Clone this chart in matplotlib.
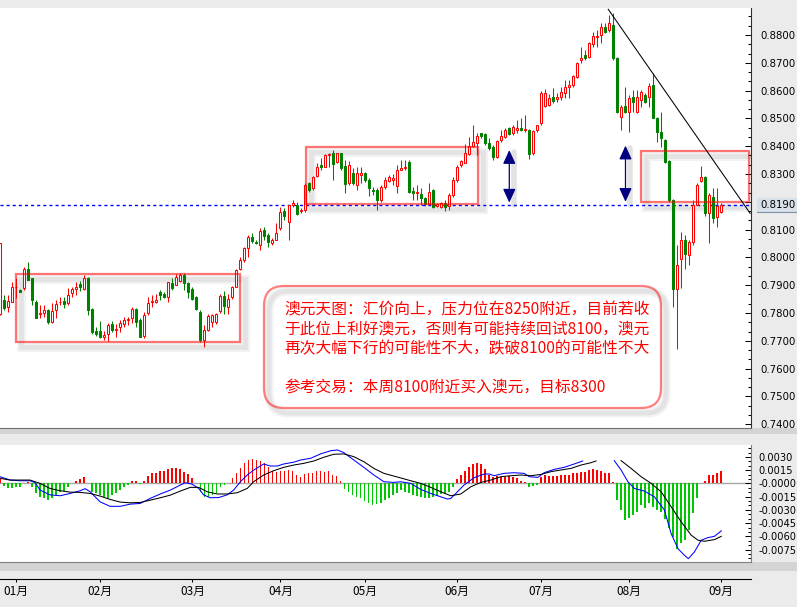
import numpy as np
import matplotlib
matplotlib.use('Agg')
import matplotlib.pyplot as plt
from matplotlib.patches import Rectangle, FancyBboxPatch, FancyArrowPatch
from matplotlib.ticker import FixedLocator, FormatStrFormatter, FuncFormatter
from matplotlib.transforms import IdentityTransform, blended_transform_factory

plt.rcParams['font.family'] = ['DejaVu Sans']
plt.rcParams['axes.unicode_minus'] = False
CJK = ['Noto Sans CJK SC', 'DejaVu Sans']

# 澳元/美元 日线，报价按万分位记 (8190 = 0.8190)
opens = [7795, 7847, 7823, 7841, 7892, 7883, 7889, 7959, 7925, 7841,
         7796, 7799, 7811, 7767, 7811, 7838, 7844, 7835, 7871, 7887,
         7904, 7887, 7925, 7814, 7736, 7736, 7715, 7725, 7760, 7739,
         7748, 7760, 7775, 7781, 7815, 7775, 7719, 7799, 7838, 7841,
         7875, 7869, 7856, 7907, 7901, 7916, 7935, 7907, 7888, 7858,
         7804, 7702, 7740, 7768, 7768, 7808, 7860, 7822, 7858, 7894,
         7960, 7992, 8032, 8074, 8056, 8043, 8100, 8080, 8050, 8064,
         8104, 8168, 8128, 8188, 8188, 8168, 8170, 8266, 8248, 8292,
         8332, 8326, 8368, 8374, 8344, 8374, 8328, 8266, 8302, 8260,
         8298, 8304, 8280, 8244, 8242, 8206, 8252, 8276, 8278, 8256,
         8316, 8320, 8344, 8240, 8232, 8228, 8212, 8192, 8242, 8184,
         8180, 8194, 8184, 8224, 8278, 8332, 8340, 8372, 8400, 8412,
         8446, 8444, 8412, 8398, 8362, 8422, 8434, 8464, 8446, 8460,
         8466, 8458, 8460, 8376, 8458, 8482, 8544, 8548, 8576, 8568,
         8578, 8590, 8612, 8620, 8650, 8710, 8728, 8722, 8768, 8792,
         8800, 8830, 8818, 8836, 8716, 8506, 8544, 8524, 8578, 8524,
         8566, 8584, 8578, 8620, 8500, 8452, 8422, 8348, 8206, 7888,
         7996, 8062, 8010, 8056, 8190, 8274, 8290, 8158, 8218, 8146,
         8162]
highs = [8052, 7865, 7863, 7913, 7927, 7885, 7967, 7985, 7925, 7847,
         7827, 7829, 7815, 7835, 7847, 7858, 7859, 7889, 7895, 7911,
         7916, 7937, 7931, 7817, 7748, 7772, 7736, 7763, 7772, 7760,
         7775, 7787, 7787, 7820, 7817, 7781, 7803, 7859, 7863, 7868,
         7883, 7875, 7913, 7925, 7939, 7943, 7943, 7913, 7895, 7860,
         7810, 7756, 7795, 7798, 7800, 7870, 7880, 7870, 7898, 7960,
         8002, 8038, 8080, 8086, 8062, 8104, 8108, 8086, 8068, 8122,
         8182, 8176, 8190, 8208, 8200, 8176, 8266, 8272, 8292, 8338,
         8356, 8372, 8374, 8388, 8376, 8376, 8350, 8348, 8320, 8324,
         8326, 8308, 8284, 8254, 8248, 8260, 8290, 8296, 8300, 8332,
         8350, 8350, 8350, 8254, 8260, 8248, 8216, 8266, 8246, 8196,
         8200, 8206, 8230, 8290, 8332, 8352, 8408, 8434, 8476, 8446,
         8448, 8446, 8428, 8404, 8422, 8460, 8464, 8470, 8476, 8494,
         8500, 8512, 8462, 8460, 8478, 8600, 8606, 8588, 8608, 8590,
         8614, 8638, 8638, 8656, 8702, 8758, 8746, 8774, 8812, 8818,
         8842, 8842, 8872, 8878, 8720, 8548, 8614, 8584, 8602, 8602,
         8602, 8590, 8628, 8662, 8506, 8524, 8426, 8350, 8210, 8044,
         8092, 8080, 8062, 8206, 8266, 8330, 8292, 8230, 8248, 8250,
         8194]
lows = [7793, 7811, 7805, 7838, 7853, 7875, 7883, 7917, 7829, 7781,
        7781, 7787, 7760, 7763, 7781, 7829, 7817, 7829, 7857, 7863,
        7880, 7881, 7793, 7724, 7719, 7709, 7703, 7700, 7733, 7715,
        7733, 7751, 7757, 7763, 7751, 7715, 7709, 7793, 7823, 7835,
        7847, 7853, 7841, 7883, 7899, 7913, 7883, 7853, 7845, 7810,
        7695, 7678, 7735, 7750, 7762, 7800, 7798, 7798, 7852, 7894,
        7954, 7984, 8002, 8050, 8047, 8026, 8062, 8038, 8044, 8062,
        8098, 8134, 8062, 8182, 8152, 8158, 8164, 8236, 8244, 8290,
        8316, 8324, 8326, 8280, 8340, 8314, 8232, 8260, 8260, 8242,
        8266, 8272, 8220, 8224, 8172, 8200, 8246, 8270, 8262, 8230,
        8314, 8314, 8230, 8206, 8206, 8188, 8186, 8188, 8178, 8180,
        8176, 8166, 8170, 8218, 8272, 8326, 8338, 8368, 8398, 8368,
        8428, 8404, 8386, 8352, 8356, 8416, 8428, 8440, 8440, 8446,
        8456, 8450, 8354, 8370, 8452, 8478, 8540, 8546, 8556, 8560,
        8566, 8572, 8572, 8614, 8644, 8698, 8710, 8716, 8758, 8758,
        8770, 8806, 8812, 8710, 8520, 8458, 8518, 8452, 8524, 8518,
        8542, 8555, 8542, 8500, 8416, 8398, 8340, 8200, 7822, 7672,
        7890, 7960, 7972, 8044, 8188, 8272, 8150, 8050, 8122, 8110,
        8158]
closes = [8050, 7817, 7843, 7893, 7895, 7877, 7958, 7919, 7847, 7781,
          7799, 7811, 7767, 7808, 7832, 7841, 7833, 7863, 7886, 7895,
          7893, 7925, 7811, 7730, 7724, 7713, 7721, 7757, 7739, 7743,
          7763, 7775, 7779, 7815, 7767, 7715, 7793, 7835, 7844, 7845,
          7865, 7859, 7911, 7889, 7931, 7937, 7907, 7877, 7852, 7816,
          7702, 7740, 7788, 7792, 7796, 7860, 7824, 7852, 7894, 7954,
          7992, 8032, 8074, 8060, 8051, 8096, 8076, 8056, 8062, 8086,
          8164, 8148, 8188, 8194, 8156, 8172, 8260, 8244, 8288, 8326,
          8324, 8368, 8372, 8336, 8374, 8320, 8264, 8332, 8266, 8302,
          8302, 8278, 8248, 8240, 8206, 8252, 8280, 8288, 8284, 8314,
          8320, 8326, 8236, 8232, 8236, 8212, 8192, 8236, 8182, 8192,
          8194, 8182, 8224, 8278, 8326, 8348, 8374, 8400, 8416, 8436,
          8436, 8412, 8392, 8362, 8420, 8436, 8460, 8444, 8470, 8464,
          8458, 8462, 8372, 8456, 8476, 8590, 8592, 8572, 8564, 8578,
          8596, 8612, 8620, 8652, 8698, 8716, 8716, 8770, 8796, 8796,
          8830, 8812, 8842, 8716, 8524, 8542, 8524, 8572, 8560, 8578,
          8596, 8560, 8616, 8500, 8452, 8428, 8344, 8206, 7888, 7972,
          8062, 8014, 8054, 8190, 8260, 8290, 8158, 8224, 8140, 8186,
          8190]

# 月份分隔
month_pos = [4, 25, 48, 70, 91, 114, 135, 157, 180]
month_labels = ['01月', '02月', '03月', '04月', '05月', '06月', '07月', '08月', '09月']

# MACD 柱 (单位 0.0001)
macd_hist = [5.7, -3, -5.7, -5.7, -4.5, -3.8, 0, 1.9, -4.5, -11.4,
             -15, -17, -19, -17, -13, -9.5, -8.3, -4.5, 0, 3,
             4.5, 7.6, 0, -9.5, -11.4, -13, -15, -17, -13, -11.4,
             -7.6, -4.5, -1.9, 3, 3, -1, 3, 8.3, 11.4, 12,
             14.4, 14.4, 16, 17, 17, 16, 13.3, 10.6, 5.7, 0,
             -9.5, -15, -15, -13, -11.4, -4.5, -2, 0, 5.7, 12,
             18, 22.7, 26.5, 27.3, 26.5, 25.8, 23.5, 19, 14.4, 13.3,
             14.4, 14.4, 15, 14.4, 9.5, 7.6, 10.6, 11.4, 12, 14.4,
             14.4, 13.3, 14.4, 9.5, 8.3, 3, -6.8, -9.5, -13, -15,
             -17, -19.7, -22, -24.6, -23.5, -22, -19, -17, -13, -11.4,
             -7.6, -9.5, -11.4, -13, -14, -15, -17, -16, -15, -14.4,
             -12, -10.6, -9.5, -3.8, 4.5, 9.5, 14.4, 19, 22, 22.7,
             22, 16, 9.5, 7.6, 8.3, 7.6, 7.6, 8.3, 7.6, 5.7,
             3, 1.9, -4.5, -3, -1.9, 7.6, 9.5, 8.3, 8.3, 8.3,
             9, 9.5, 9.5, 11.4, 12, 13.3, 13.3, 15, 16, 15,
             14.4, 11.4, 11.4, 1.9, -19, -30, -41, -38.7, -36, -32,
             -24.6, -28.4, -22.7, -26.5, -30, -32, -39.8, -51, -60.6, -74,
             -68, -63.7, -53, -34, -16, 0, 3, 9.5, 9.5, 11.4,
             14.4]

nan = float('nan')
# DIF (蓝线)
dif_idx = [0, 2.5, 5, 7.5, 8.75, 10, 12.5, 15, 17.5, 20, 21.25, 22.5, 25, 27.5, 30,
           32.5, 35, 37.5, 40, 42.5, 45, 46.25, 47.9, 49.6, 50.8, 52.5, 54.6, 56.7,
           58.3, 60, 61.7, 63.3, 65.8, 67.5, 69.2, 70.8, 73.3, 75, 77.5, 80, 82.5,
           84.2, 85.8, 88.3, 90.8, 93.3, 95.8, 98.3, 100, 102.5, 105, 107.5, 110,
           111.7, 112.5, 113.75, 115.8, 118.3, 120.8, 122.1, 123.3, 125.8, 128.3,
           130.8, 132.1, 134.2, 135.8, 138.3, 140.8, 143.3, 145.4, nan,
           153.3, 155, 156.7, 158.3, 160.8, 163.3, 165.8, 167.5, 169.2, 170.8,
           171.8, 173.3, 175, 176.7, 178.3, 180]
dif_val = [7.6, 3.8, 3, 3, 0.8, -7.6, -13, -14, -11.4, -8.3, -6, -9.5, -21, -26, -26,
           -23.5, -22.7, -17, -12, -7.6, -1.9, 0.8, -0.8, -5.7, -13, -16.3, -16, -13,
           -7.6, 1.9, 9.5, 15, 22, 19.7, 19.7, 22, 24, 26.5, 28.4, 33.4, 37,
           37.9, 34.9, 26.5, 18.2, 9.5, 1.9, 1.1, 1.9, 0, -6.8, -11.4, -15.2,
           -17.8, -17, -11.4, -1.9, 6.4, 10.6, 10.6, 8.7, 11.4, 12.1,
           11.4, 7.6, 6.8, 12.1, 15.9, 18.2, 22, 25.4, nan,
           25.8, 15.2, 1.9, -5.7, -8.7, -15.2, -30, -57, -74, -81.5,
           -85.3, -77.7, -64.4, -61.4, -60, -53.8]
# DEA (黑线)
dea_idx = [0, 2.5, 5, 7.5, 10, 12.5, 15, 17.5, 20, 22.5, 25, 27.5, 30, 32.5, 35,
           37.5, 40, 42.5, 45, 47.5, 49.6, 51.7, 54.2, 56.7, 59.2, 61.7, 63.3, 65.8,
           68.3, 70.8, 73.3, 75.8, 78.3, 80.8, 83.3, 85.8, 88.3, 90.8, 93.3, 95.8,
           98.3, 100, 102.5, 105, 107.5, 110, 112.5, 115, 117.5, 120, 122.5, 125,
           127.5, 130, 132.5, 135, 137.5, 140, 142.5, 145, 147.5, 148.75, nan,
           155, 157.5, 160, 162.5, 165, 167.5, 170, 172.5, 174.2, 175.8, 178.3, 180]
dea_val = [5.7, 3.8, 3.8, 3.8, 0, -5.7, -8.3, -9.9, -10.2, -11.4, -14.4, -18.2, -21.2, -22, -21.6,
           -19, -16.3, -13.3, -8.7, -4.5, -4.5, -9.5, -12, -12, -10.6, -5.7, 1.9, 9.5,
           14.4, 18.2, 20.8, 22.7, 25.4, 29.6, 33, 33.4, 30.3, 24.6, 17, 11.4,
           8.3, 6.2, 3, 0, -4.5, -9.5, -14, -12, -3.8, 1.1, 3.8, 7.6,
           8.7, 9.5, 8.7, 10.2, 13.3, 15.2, 17, 20.8, 23.5, 25.4, nan,
           25.8, 17, 7.6, 0, -9.5, -26.5, -43.6, -58.7, -64.4, -65.6, -63.7, -60]

RED = '#FF0000'
GREEN = '#008000'
HIST_GREEN = '#00C800'

W, H = 797, 607
STEP = 4.007  # 每根K线的像素间距


def px_rect(x0, y0, x1, y1):
    return [x0 / W, 1 - y1 / H, (x1 - x0) / W, (y1 - y0) / H]


fig = plt.figure(figsize=(W / 100, H / 100), dpi=100, facecolor='#EBEBEB')
ax = fig.add_axes(px_rect(0, 8, 751, 428))
axm = fig.add_axes(px_rect(0, 445, 751, 562))
axd = fig.add_axes(px_rect(0, 560, 751, 579))

xmax = 751 / STEP
for a in (ax, axm, axd):
    a.set_xlim(0, xmax)

# 面板之间的灰条
for y0, y1 in [(428, 434), (562, 571)]:
    fig.add_artist(Rectangle((0, H - y1), W, y1 - y0, transform=IdentityTransform(),
                             facecolor='#D4D4D4', edgecolor='none', zorder=-1))

# ---- K线 ----
o = np.array(opens) / 10000
h = np.array(highs) / 10000
l = np.array(lows) / 10000
c = np.array(closes) / 10000
x = np.arange(len(o))
up = c >= o
body_lo = np.minimum(o, c)
body_h = np.maximum(np.abs(c - o), 0.00004)

ax.vlines(x[up], l[up], h[up], color=RED, lw=0.75, zorder=3)
ax.vlines(x[~up], l[~up], h[~up], color=GREEN, lw=0.75, zorder=3)
ax.bar(x[up], body_h[up], bottom=body_lo[up], width=0.5, facecolor='white',
       edgecolor=RED, linewidth=0.75, zorder=4)
ax.bar(x[~up], body_h[~up], bottom=body_lo[~up], width=0.5, facecolor=GREEN,
       edgecolor=GREEN, linewidth=0.75, zorder=4)

ax.set_ylim(0.73863, 0.88971)
ax.set_facecolor('white')

# 现价水平虚线
last = closes[-1] / 10000
ax.axhline(last, color='#0000FF', lw=1.0, dashes=(2.2, 2.2), zorder=2)

# 区间框 (带阴影)
dx_sh, dy_sh = 5 / STEP, 5 / 2780


def range_box(x0, x1, y0, y1):
    for lw, col in [(6.5, '#F2F2F2'), (3.5, '#E3E3E3')]:
        ax.add_patch(Rectangle((x0 + dx_sh, y0 - dy_sh), x1 - x0, y1 - y0, fill=False,
                               edgecolor=col, lw=lw, zorder=1))
    ax.add_patch(Rectangle((x0, y0), x1 - x0, y1 - y0, fill=False, edgecolor='red',
                           alpha=0.55, lw=1.6, zorder=5))


range_box(3.9, 59.9, 0.7697, 0.7939)
range_box(76.3, 119.4, 0.8191, 0.8398)
range_box(159.9, 187.0, 0.8198, 0.8383)

# 双向箭头
for ax_x, y_lo, y_hi in [(127.1, 0.8197, 0.8386), (156.1, 0.8200, 0.8402)]:
    ax.plot([ax_x + dx_sh] * 2, [y_lo - 0.001, y_hi - 0.0008], color='#E2E2E2', lw=4,
            solid_capstyle='round', zorder=1)
    ax.add_patch(FancyArrowPatch((ax_x, y_lo), (ax_x, y_hi),
                                 arrowstyle='<|-|>,head_length=0.7,head_width=0.32',
                                 mutation_scale=12, color='#000080', lw=0.9,
                                 shrinkA=0, shrinkB=0, zorder=6))

# 下降趋势线
ax.plot([151.8, 187.2], [0.88924, 0.81586], color='black', lw=0.75, zorder=5)


def price_label(v, pos):
    # 现价标签所在位置不再标注刻度值
    return '' if abs(v - last) < 0.002 else '%.4f' % v


# 右侧价格轴
ax.yaxis.tick_right()
ax.yaxis.set_major_locator(FixedLocator(np.arange(0.74, 0.8801, 0.01)))
ax.yaxis.set_minor_locator(FixedLocator(np.arange(0.74, 0.8897, 0.01 / 3)))
ax.yaxis.set_major_formatter(FuncFormatter(price_label))
ax.tick_params(axis='y', which='major', direction='in', length=4, width=0.75,
               pad=6.5, labelsize=7.3)
ax.tick_params(axis='y', which='minor', direction='in', length=2.2, width=0.75)
ax.set_xticks([])
for s in ('left', 'top'):
    ax.spines[s].set_visible(False)
ax.spines['right'].set_color('#303030')
ax.spines['bottom'].set_color('#707070')

# 现价标签
bt = blended_transform_factory(ax.transAxes, ax.transData)
ax.add_patch(Rectangle((757 / 751, last - 0.0025), 60 / 751, 0.0049, transform=bt,
                       facecolor='#D8E0EA', edgecolor='none', clip_on=False, zorder=8))
ax.plot([757 / 751, 1.07], [last - 0.0025] * 2, transform=bt, color='#8090A8',
        lw=0.8, clip_on=False, zorder=9)
ax.text(760 / 751, last, '%.4f' % last, transform=bt, va='center', ha='left',
        fontsize=7.3, clip_on=False, zorder=10)

# ---- MACD ----
hist = np.array(macd_hist) / 10000
axm.axhline(0, color='#A8A8A8', lw=1.0, zorder=1)
axm.bar(x, hist, width=0.42, color=np.where(hist >= 0, RED, HIST_GREEN), zorder=2)
axm.plot(dif_idx, np.array(dif_val) / 10000, color='#0000FF', lw=0.75, zorder=3)
axm.plot(dea_idx, np.array(dea_val) / 10000, color='black', lw=0.75, zorder=3)
axm.set_ylim(-0.008909, 0.004352)
axm.yaxis.tick_right()
axm.yaxis.set_major_locator(FixedLocator(np.arange(-0.0075, 0.00301, 0.0015)))
axm.yaxis.set_minor_locator(FixedLocator(np.arange(-0.0085, 0.0043, 0.0005)))
axm.yaxis.set_major_formatter(FormatStrFormatter('%.4f'))
axm.tick_params(axis='y', which='major', direction='in', length=4, width=0.75,
                pad=5.5, labelsize=7.1)
axm.tick_params(axis='y', which='minor', direction='in', length=2.5, width=0.75)
axm.set_xticks([])
for s in ('left', 'top'):
    axm.spines[s].set_visible(False)
for s in ('right', 'bottom'):
    axm.spines[s].set_color('#808080')

# ---- 月份轴 ----
axd.patch.set_visible(False)
for s in ('left', 'top', 'right'):
    axd.spines[s].set_visible(False)
axd.spines['bottom'].set_color('black')
axd.set_yticks([])
axd.set_xticks(month_pos)
axd.set_xticklabels(month_labels, family=CJK, fontsize=8.5)
axd.tick_params(axis='x', direction='out', length=2.5, width=0.75, pad=1.5)

# ---- 文字说明框 ----
bx0, by0, bx1, by1 = 264, 286, 661, 408
idt = IdentityTransform()
fig.add_artist(FancyBboxPatch((bx0, H - by1), bx1 - bx0, by1 - by0,
                              boxstyle='round,pad=0,rounding_size=20', transform=idt,
                              facecolor='white', edgecolor='none', zorder=5))
for lw, col in [(6.5, '#F2F2F2'), (3.5, '#E3E3E3')]:
    fig.add_artist(FancyBboxPatch((bx0 + 5, H - by1 - 5), bx1 - bx0, by1 - by0,
                                  boxstyle='round,pad=0,rounding_size=20', transform=idt,
                                  facecolor='none', edgecolor=col, lw=lw, zorder=6))
fig.add_artist(FancyBboxPatch((bx0, H - by1), bx1 - bx0, by1 - by0,
                              boxstyle='round,pad=0,rounding_size=20', transform=idt,
                              facecolor='none', edgecolor='red', alpha=0.5, lw=1.6, zorder=7))

notes = [
    (309.7, '澳元天图：汇价向上，压力位在8250附近，目前若收'),
    (329.0, '于此位上利好澳元，否则有可能持续回试8100，澳元'),
    (348.3, '再次大幅下行的可能性不大，跌破8100的可能性不大'),
    (387.5, '参考交易：本周8100附近买入澳元，目标8300'),
]
for ty, line in notes:
    fig.text(284 / W, 1 - ty / H, line, family=CJK, fontsize=11.3, color='#FF0000',
             ha='left', va='center', zorder=8)

fig.savefig('out.png', dpi=100, facecolor=fig.get_facecolor())
